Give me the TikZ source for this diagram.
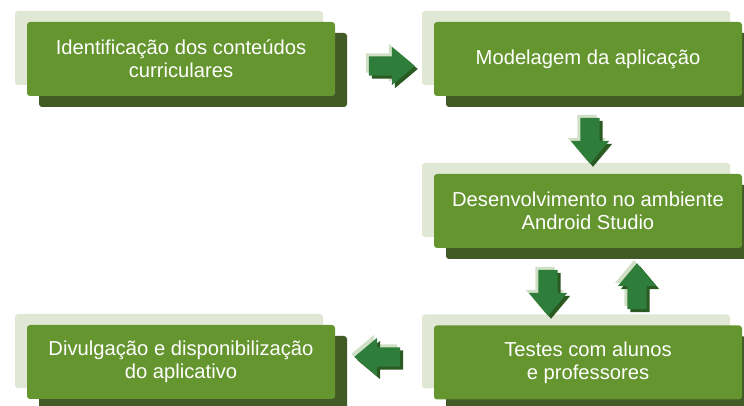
\documentclass[tikz,border=0pt]{standalone}
\usepackage{fontspec}
\setmainfont{Liberation Sans}
\usepackage{tikz}
\usetikzlibrary{shapes,arrows,shadows}
\definecolor{boxgreen}{HTML}{65952F}
\definecolor{boxdark}{HTML}{425A26}
\definecolor{boxlight}{HTML}{E0E8D5}
\definecolor{arrgreen}{HTML}{2F7D3A}
\definecolor{arrdark}{HTML}{2A5A22}
\definecolor{arrlight}{HTML}{CFE0C6}
\tikzstyle{gbox} = [rectangle, rounded corners=3pt, fill=boxgreen, text=white, minimum width=308pt, minimum height=74pt, align=center, font=\fontsize{20.2}{23}\selectfont, general shadow={fill=boxlight, shadow xshift=-12pt, shadow yshift=11pt}, general shadow={fill=boxdark, shadow xshift=12pt, shadow yshift=-11pt}]
\tikzstyle{garrow} = [single arrow, fill=arrgreen, inner xsep=0pt, inner ysep=9.5pt, minimum height=46pt, single arrow head extend=9.5pt, single arrow tip angle=80, general shadow={fill=arrlight, shadow xshift=-3pt, shadow yshift=3pt}, general shadow={fill=arrdark, shadow xshift=3pt, shadow yshift=-3pt}]

\begin{document}
\begin{tikzpicture}[x=1pt, y=1pt]
			\useasboundingbox (0,0) rectangle (744,406);
			\node [gbox] (ident) at (181, 347) {Identificação dos conteúdos\\curriculares};
			\node [gbox] (model) at (588, 347) {Modelagem da aplicação};
			\node [gbox] (desenv) at (588, 195) {Desenvolvimento no ambiente\\Android Studio};
			\node [gbox] (testes) at (588, 43.5) {Testes com alunos\\e professores};
			\node [gbox] (divulg) at (181, 44) {Divulgação e disponibilização\\do aplicativo};
			
			\node [garrow] (a1) at (386, 340) {};
			\node [garrow, rotate=-90] (a2) at (590, 271) {};
			\node [garrow, rotate=-90] (a3) at (548, 119) {};
			\node [garrow, rotate=90] (a4) at (637, 114) {};
			\node [garrow, rotate=180] (a5) at (383, 49) {};
		\end{tikzpicture}
\end{document}
